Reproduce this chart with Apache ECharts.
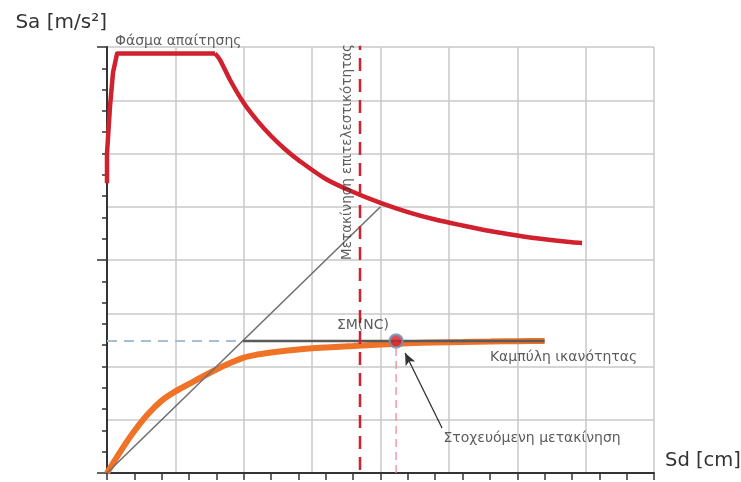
<!DOCTYPE html>
<html>
<head>
<meta charset="utf-8">
<script src="https://cdn.jsdelivr.net/npm/echarts@6/dist/echarts.min.js"></script>
<style>html,body{margin:0;padding:0;background:#fff;}#c{width:741px;height:482px;}</style>
</head>
<body>
<div id="c"></div>
<script>
// ---- data (axis units: one minor tick = 1 unit) ----
const demandRise = [[0,13.6],[0,15.0],[0.11,17.2],[0.22,18.8],[0.37,19.7],[3.95,19.7]];
const demandFall = [[3.95,19.7],[4.13,19.4],[4.5,18.45],[5,17.37],[5.5,16.53],[6,15.82],[6.5,15.21],[7,14.69],[8,13.80],[9,13.19],[10,12.68],[11,12.25],[12,11.90],[13,11.62],[14,11.36],[15,11.15],[16,10.97],[17,10.83],[17.37,10.80]];
const capacity = [[0,0],[0.5,1.03],[1,1.97],[1.5,2.77],[2,3.40],[2.5,3.83],[3,4.18],[3.5,4.53],[4,4.86],[4.5,5.16],[5,5.42],[5.5,5.56],[6,5.66],[7,5.80],[8,5.89],[9,5.96],[10,6.03],[11,6.09],[12,6.13],[13,6.15],[14,6.17],[15,6.19],[16,6.2]];
const bilinearElastic = [[0,0],[10,12.5]];
const bilinearPlastic = [[4.97,6.2],[16.0,6.2]];
const yieldLevel = [[0,6.2],[4.97,6.2]];
const targetPoint = [10.57, 6.2];
const performanceSd = 9.25;
const performanceTop = 20.1;
const arrowFrom = [12.25, 2.11];
const arrowTo = [10.9, 5.63];
const labels = [
  {name:'Φάσμα απαίτησης', value:[0.29,20.28], align:'left', rot:0, size:14},
  {name:'Καμπύλη ικανότητας', value:[14.0,5.45], align:'left', rot:0, size:14},
  {name:'ΣΜ(NC)', value:[9.36,6.95], align:'center', rot:0, size:14},
  {name:'Στοχευόμενη μετακίνηση', value:[12.3,1.64], align:'left', rot:0, size:14},
  {name:'Μετακίνηση επιτελεστικότητας', value:[8.78,15.07], align:'center', rot:90, size:13.5}
];
const axisMin = 0, axisMax = 20, tickStep = 1, gridStep = 2.5, longTickStep = 10;

const FONT = 'DejaVu Sans';
const TXT = '#333333';
const chart = echarts.init(document.getElementById('c'));

function tickAxis(extra){
  return Object.assign({
    type:'value', min:axisMin, max:axisMax, interval:tickStep,
    axisLine:{show:true, lineStyle:{color:'#333', width:2}},
    axisTick:{show:true, inside:false, length:7, lineStyle:{color:'#333', width:1.5}},
    axisLabel:{show:false}, splitLine:{show:false}
  }, extra);
}
function gridAxis(extra){
  return Object.assign({
    type:'value', min:axisMin, max:axisMax, interval:gridStep,
    axisLine:{show:false}, axisTick:{show:false}, axisLabel:{show:false},
    splitLine:{show:true, lineStyle:{color:'#c8c8c8', width:1.5}}
  }, extra);
}

chart.setOption({
  animation:false,
  grid:{left:107, right:87, top:47, bottom:9, containLabel:false, outerBoundsMode:'none'},
  xAxis:[
    tickAxis({position:'bottom', name:'Sd [cm]', nameLocation:'end', nameGap:11,
      nameTextStyle:{fontFamily:FONT, fontSize:19.5, color:TXT, verticalAlign:'bottom', padding:[0,0,2,0]}}),
    gridAxis({position:'bottom'})
  ],
  yAxis:[
    tickAxis({position:'left', axisTick:{show:true, length:5, lineStyle:{color:'#333', width:1.5}},
      name:'Sa [m/s²]', nameLocation:'end', nameGap:14,
      nameTextStyle:{fontFamily:FONT, fontSize:20, color:TXT, align:'right', padding:[0,0,0,0]}}),
    gridAxis({position:'left'}),
    {type:'value', min:axisMin, max:axisMax, interval:longTickStep, position:'left',
      axisLine:{show:false}, axisTick:{show:true, length:10, lineStyle:{color:'#333', width:1.5}},
      axisLabel:{show:false}, splitLine:{show:false}}
  ],
  series:[
    {type:'line', data:yieldLevel, symbol:'none', lineStyle:{color:'#a9bdd0', width:2, type:[10,7]}, z:3},
    {type:'line', data:capacity, symbol:'none', smooth:0.3, lineStyle:{color:'#ef7226', width:6}, z:4},
    {type:'line', data:bilinearElastic, symbol:'none', lineStyle:{color:'#707070', width:1.6}, z:5},
    {type:'line', data:bilinearPlastic, symbol:'none', lineStyle:{color:'#5a5a5a', width:2.5}, z:5},
    {type:'line', data:demandRise, symbol:'none', lineStyle:{color:'#d1202e', width:4.5, join:'round'}, z:6},
    {type:'line', data:demandFall, symbol:'none', smooth:0.3, lineStyle:{color:'#d1202e', width:4.5}, z:6},
    {type:'line', data:[[performanceSd,0.14],[performanceSd,performanceTop]], symbol:'none',
      lineStyle:{color:'#d1202e', width:2.5, type:[13,8]}, z:7},
    {type:'line', data:[[targetPoint[0],0],[targetPoint[0],targetPoint[1]]], symbol:'none',
      lineStyle:{color:'#f08a9a', width:1.3, type:[8,5]}, z:7},
    {type:'scatter', data:[targetPoint], symbol:'circle', symbolSize:13,
      itemStyle:{color:'#d1202e', borderColor:'#7592b2', borderWidth:2.5}, z:9,
      markLine:{silent:true, symbol:['none','arrow'], symbolSize:[8,12],
        lineStyle:{color:'#333', width:1.3, type:'solid'}, label:{show:false},
        data:[[{coord:arrowFrom},{coord:arrowTo}]]}},
    {type:'scatter', symbolSize:0, clip:false, z:10,
      data:labels.map(l=>({name:l.name, value:l.value,
        label:{show:true, formatter:'{b}', position:[0,0], align:l.align, verticalAlign:'middle', rotate:l.rot,
          fontFamily:FONT, fontSize:l.size, color:TXT}}))}
  ]
});
</script>
</body>
</html>
